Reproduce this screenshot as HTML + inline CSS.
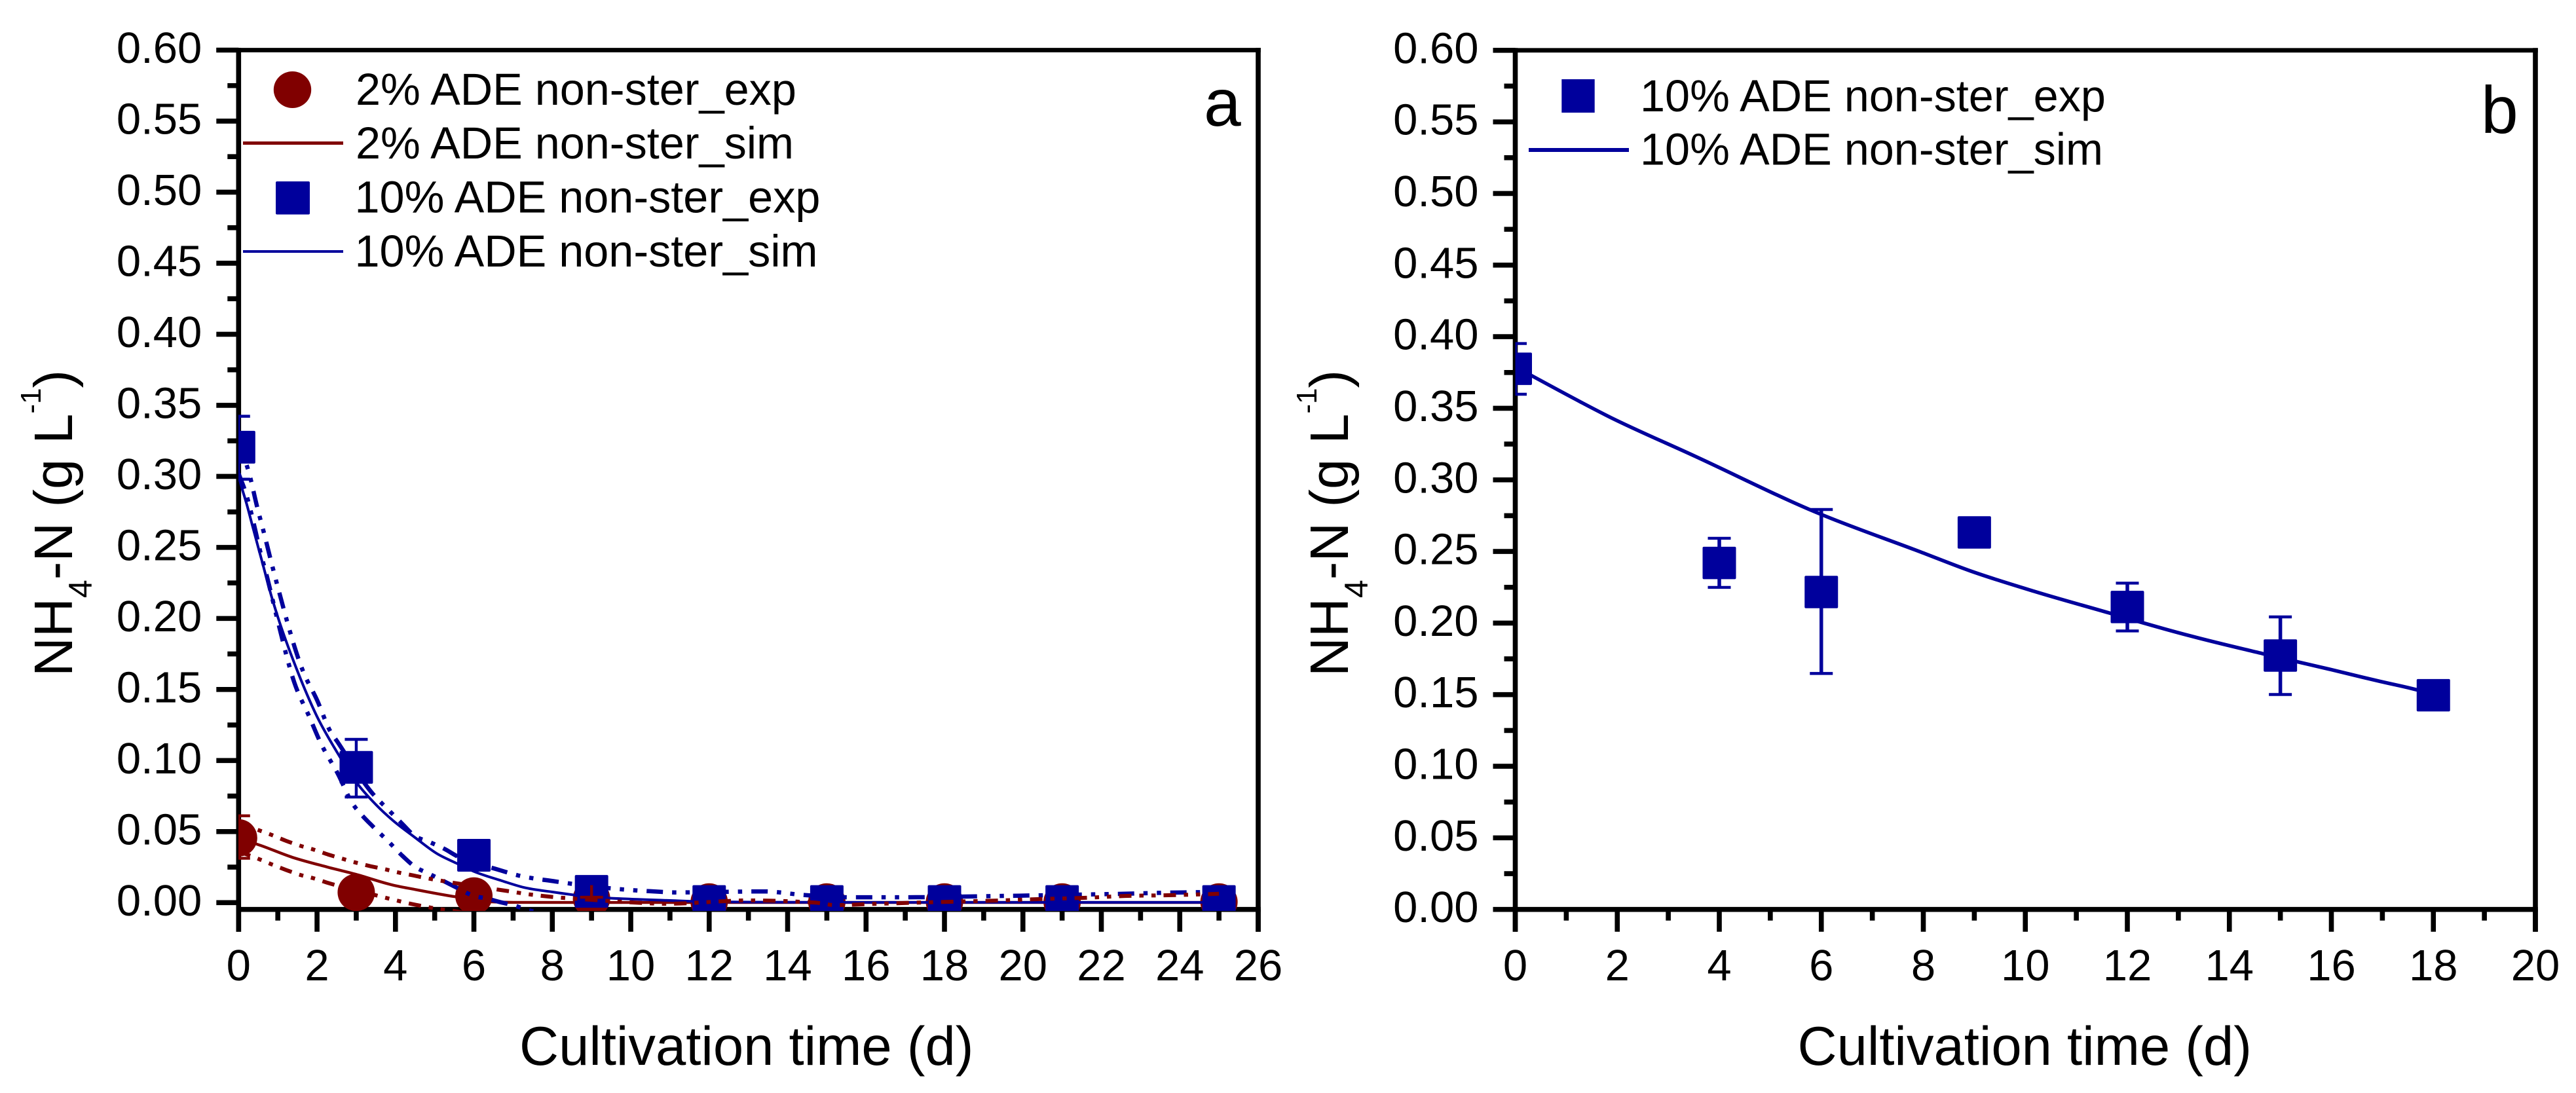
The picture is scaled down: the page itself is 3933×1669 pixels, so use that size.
<!DOCTYPE html>
<html lang="en">
<head>
<meta charset="utf-8">
<title>NH4-N cultivation time charts</title>
<style>
html,body{margin:0;padding:0;background:#fff;}
svg{display:block;}
text{font-family:"Liberation Sans",Arial,sans-serif;fill:#000;}
</style>
</head>
<body>
<svg id="figure" xmlns="http://www.w3.org/2000/svg" width="3933" height="1669" viewBox="0 0 3933 1669">
  <rect x="0" y="0" width="3933" height="1669" fill="#ffffff"/>
  <defs>
    <clipPath id="clip-a"><rect x="364" y="70" width="1570" height="1321"/></clipPath>
    <clipPath id="clip-b"><rect x="2313.5" y="70" width="1570" height="1321"/></clipPath>
  </defs>
  <g id="panel-a">
    <g id="axes-a"></g>
    <g id="marks-a" clip-path="url(#clip-a)"></g>
    <text x="793" y="1626" font-size="83.2">Cultivation time (d)</text>
    <text transform="translate(110,1033) rotate(-90)" font-size="83">NH<tspan font-size="50" dy="30">4</tspan><tspan dy="-30">-N (g L</tspan><tspan font-size="44" dy="-48">-1</tspan><tspan dy="48">)</tspan></text>
    <text x="1838" y="192" font-size="102">a</text>
    <g>
      <ellipse cx="446.5" cy="137" rx="28.7" ry="28" fill="#800000"/>
      <text x="543" y="160" font-size="68.4">2% ADE non-ster_exp</text>
      <rect x="371" y="216" width="153" height="5" fill="#800000"/>
      <text x="543" y="242" font-size="68.4">2% ADE non-ster_sim</text>
      <rect x="421" y="277" width="52" height="50.5" rx="2" fill="#00009c"/>
      <text x="541.5" y="324.5" font-size="68.4">10% ADE non-ster_exp</text>
      <rect x="371" y="382" width="153" height="4" fill="#00009c"/>
      <text x="541.5" y="407" font-size="68.4">10% ADE non-ster_sim</text>
    </g>
  </g>
  <g id="panel-b">
    <g id="axes-b"></g>
    <g id="marks-b" clip-path="url(#clip-b)"></g>
    <text x="2744.5" y="1626" font-size="83.2">Cultivation time (d)</text>
    <text transform="translate(2058,1033) rotate(-90)" font-size="83">NH<tspan font-size="50" dy="30">4</tspan><tspan dy="-30">-N (g L</tspan><tspan font-size="44" dy="-48">-1</tspan><tspan dy="48">)</tspan></text>
    <text x="3788" y="203" font-size="102">b</text>
    <g>
      <rect x="2384.3" y="121" width="50.4" height="51" fill="#00009c"/>
      <text x="2504" y="170" font-size="68.4">10% ADE non-ster_exp</text>
      <rect x="2334" y="226" width="153" height="6" fill="#00009c"/>
      <text x="2504" y="251.5" font-size="68.4">10% ADE non-ster_sim</text>
    </g>
  </g>
</svg>
<script>
/* ---------- shared tick labels ---------- */
var yTickLabels = ['0.00','0.05','0.10','0.15','0.20','0.25','0.30','0.35','0.40','0.45','0.50','0.55','0.60'];
var xTickLabelsA = ['0','2','4','6','8','10','12','14','16','18','20','22','24','26'];
var xTickLabelsB = ['0','2','4','6','8','10','12','14','16','18','20'];

/* ---------- panel a: experimental ---------- */
var expTimesA = [0,3,6,9,12,15,18,21,25];
var exp2Values = [0.0456,0.0072,0.0047,0.0029,0.0005,0.0005,0.0005,0.0005,0.0005];
var exp10Values = [0.3205,0.0952,0.0333,0.0079,0.0008,0.0008,0.0008,0.0008,0.0008];
var err10Times = [0,3];
var err10Top = [0.3423,0.1149];
var err10Bottom = [0.298,0.0743];
var err2Times = [0,9];
var err2Top = [0.0611,0.0123];
var err2Bottom = [0.0312,0.0038];
var err2TopCap = [true,false];

/* ---------- panel a: 10% simulation and bands ---------- */
var sim10Times = [0,0.06,0.2,0.37,0.6,0.85,1,1.48,2,2.49,3.05,3.5,3.94,4.49,5.05,5.55,5.97,6.72,7.27,8,9,10,11,12,15,18,21,25];
var sim10Values = [0.3,0.294,0.281,0.2634,0.24,0.2144,0.201,0.1644,0.131,0.1068,0.083,0.069,0.0577,0.046,0.0346,0.0278,0.0223,0.0153,0.0107,0.0075,0.004,0.0025,0.0015,0.0006,0.0002,0.0002,0.0002,0.0002];
var upper10Times = [0,0.3,0.46,0.66,0.83,1,1.64,2.01,2.33,2.52,3.43,3.82,4.19,4.46,4.88,5.27,5.55,6.62,7.12,8.08,9.57,10.5,11.2,13.4,14.4,15.6,17,18.8,19.9,22,24.1,25];
var upper10Values = [0.325,0.2988,0.28,0.2588,0.24,0.222,0.163,0.142,0.121,0.1132,0.0763,0.0653,0.055,0.0476,0.0425,0.0375,0.033,0.0232,0.0192,0.0149,0.0098,0.008,0.0072,0.0079,0.0054,0.0038,0.0038,0.0044,0.0049,0.0059,0.0072,0.0075];
var lower10Times = [0,0.2,0.4,0.55,0.73,0.83,1,1.42,1.8,2.1,2.54,2.9,3.15,3.42,3.82,4.2,4.48,4.88,5.27,5.55,6,6.34,6.62,7.02,7.4,8,25];
var lower10Values = [0.302,0.2868,0.2653,0.2473,0.2287,0.2174,0.198,0.155,0.131,0.112,0.0902,0.0699,0.0614,0.0537,0.043,0.0323,0.0256,0.02,0.0146,0.0107,0.0047,0.0029,0.0007,-0.002,-0.0054,-0.008,-0.008];

/* ---------- panel a: 2% simulation and bands ---------- */
var sim2Times = [0,0.43,1.37,2.27,2.98,3.94,4.49,5.49,6,6.44,7,9,12,25];
var sim2Values = [0.045,0.0415,0.0319,0.025,0.02,0.0123,0.0093,0.0043,0.0022,0.0006,0.0002,0.0001,0.0001,0.0001];
var upper2Times = [0,0.53,0.81,1.21,1.61,1.89,2.29,2.68,2.96,3.37,3.76,4.03,4.44,4.83,5.1,5.52,6.6,6.97,7.24,8,9,10,10.9,13,14.7,15.2,16.3,17.3,18.4,19.4,20.5,21.6,22.6,23.7,25];
var upper2Values = [0.056,0.0508,0.048,0.0435,0.0397,0.0375,0.0338,0.0306,0.0284,0.0256,0.0233,0.0215,0.0192,0.017,0.0157,0.0138,0.0092,0.0077,0.0065,0.004,0.002,0.0002,-0.0008,0.0015,0,-0.0017,-0.0008,0,0.0008,0.0015,0.0026,0.0034,0.0047,0.0052,0.0062];
var lower2Times = [0,0.54,0.82,1.21,1.61,1.89,2.29,3.48,3.75,4.03,4.44,4.82,5.1,5.46,6,25];
var lower2Values = [0.036,0.0304,0.0272,0.023,0.0192,0.0173,0.0138,0.0053,0.0034,0.0015,-0.0011,-0.0031,-0.0045,-0.0057,-0.008,-0.008];

/* ---------- panel b ---------- */
var expTimesB = [0,4,6,9,12,15,18];
var expValuesB = [0.3776,0.242,0.2217,0.2633,0.2112,0.1773,0.1496];
var errTimesB = [0,4,6,12,15];
var errTopB = [0.3952,0.2592,0.2793,0.2279,0.2043];
var errBottomB = [0.3598,0.2249,0.1648,0.1945,0.1501];
var simTimesB = [0,0.33,1.88,3.52,5.9,7.95,8.93,10.16,11.64,12.29,13.27,14.67,15.98,16.96,17.7,18];
var simValuesB = [0.379,0.3726,0.3434,0.3166,0.2773,0.2496,0.2363,0.2223,0.2071,0.2003,0.1907,0.1785,0.1676,0.1592,0.1531,0.15];

var SVGNS = 'http://www.w3.org/2000/svg';
var RED = '#800000';
var BLUE = '#00009c';

function svgEl(parent, tag, attrs) {
  var el = document.createElementNS(SVGNS, tag);
  for (var k in attrs) { el.setAttribute(k, attrs[k]); }
  parent.appendChild(el);
  return el;
}

function linear(d0, d1, r0, r1) {
  return function (v) { return r0 + (v - d0) * (r1 - r0) / (d1 - d0); };
}

function drawAxes(group, xs, ys, opts) {
  var L = xs(0), R = xs(opts.xMax), T = ys(0.6), B = opts.bottom;
  var lw = 7.6;
  function bar(name, x1, y1, x2, y2, w) {
    var ln = svgEl(group, 'line', {x1:x1, y1:y1, x2:x2, y2:y2, stroke:'#000', 'stroke-width':w});
    
    
  }
  bar('left-spine', L, T - 3.5, L, B + 34, lw);
  bar('right-spine', R, T - 3.5, R, B + 34, lw);
  bar('top-spine', L - 34, T, R + 3.8, T, 6.8);
  bar('bottom-spine', L - 3.8, B, R + 3.8, B, lw);
  yTickLabels.forEach(function (lab, i) {
    var v = parseFloat(lab), y = ys(v);
    bar('y-tick', L - 34, y, L, y, 7.6);
    if (i < yTickLabels.length - 1) {
      var ym = ys(v + (parseFloat(yTickLabels[i + 1]) - v) / 2);
      bar('y-minor-tick', L - 17, ym, L, ym, 7.6);
    }
    var t = svgEl(group, 'text', {x: L - 56, y: y + 19.5, 'font-size': 67, 'text-anchor': 'end'});
    
    
    t.textContent = lab;
  });
  opts.xLabels.forEach(function (lab, i) {
    var v = parseFloat(lab), x = xs(v);
    bar('x-tick', x, B, x, B + 34, 7.6);
    if (i < opts.xLabels.length - 1) {
      var xm = xs(v + (parseFloat(opts.xLabels[i + 1]) - v) / 2);
      bar('x-minor-tick', xm, B, xm, B + 17, 7.6);
    }
    var t = svgEl(group, 'text', {x: x, y: 1497, 'font-size': 67, 'text-anchor': 'middle'});
    
    
    t.textContent = lab;
  });
}

/* monotone cubic path through the read-off points */
function smoothPath(px, py) {
  var n = px.length, s = [], m = [], i;
  for (i = 0; i < n - 1; i++) { s.push((py[i + 1] - py[i]) / (px[i + 1] - px[i])); }
  m[0] = s[0];
  m[n - 1] = s[n - 2];
  for (i = 1; i < n - 1; i++) {
    if (s[i - 1] * s[i] <= 0) { m[i] = 0; continue; }
    var h0 = px[i] - px[i - 1], h1 = px[i + 1] - px[i];
    var w = (s[i - 1] * h1 + s[i] * h0) / (h0 + h1);
    var lim = 2 * Math.min(Math.abs(s[i - 1]), Math.abs(s[i]));
    m[i] = Math.sign(w) * Math.min(Math.abs(w), lim);
  }
  var d = 'M' + px[0].toFixed(1) + ' ' + py[0].toFixed(1);
  for (i = 0; i < n - 1; i++) {
    var h = (px[i + 1] - px[i]) / 3;
    d += 'C' + (px[i] + h).toFixed(1) + ' ' + (py[i] + m[i] * h).toFixed(1) + ' ' +
         (px[i + 1] - h).toFixed(1) + ' ' + (py[i + 1] - m[i + 1] * h).toFixed(1) + ' ' +
         px[i + 1].toFixed(1) + ' ' + py[i + 1].toFixed(1);
  }
  return d;
}

function drawCurve(group, name, ts, vs, xs, ys, color, width, dash) {
  var attrs = {d: smoothPath(ts.map(xs), vs.map(ys)), fill: 'none', stroke: color, 'stroke-width': width, 'stroke-linejoin': 'round'};
  if (dash) { attrs['stroke-dasharray'] = dash; }
  var p = svgEl(group, 'path', attrs);
  
  
}

function drawSquares(group, name, ts, vs, xs, ys, w, h) {
  ts.forEach(function (t, i) {
    var r = svgEl(group, 'rect', {x: xs(t) - w / 2, y: ys(vs[i]) - h / 2, width: w, height: h, rx: 2, fill: BLUE});
    
    
  });
}

function drawCircles(group, name, ts, vs, xs, ys, r) {
  ts.forEach(function (t, i) {
    var c = svgEl(group, 'circle', {cx: xs(t), cy: ys(vs[i]), r: r, fill: RED});
    
    
  });
}

function drawErrors(group, name, ts, tops, bots, xs, ys, color, sw, topCaps) {
  ts.forEach(function (t, i) {
    var x = xs(t), y1 = ys(tops[i]), y2 = ys(bots[i]);
    var stem = svgEl(group, 'line', {x1: x, y1: y1, x2: x, y2: y2, stroke: color, 'stroke-width': sw});
    
    
    if (!topCaps || topCaps[i]) {
      var c1 = svgEl(group, 'line', {x1: x - 17.5, y1: y1, x2: x + 17.5, y2: y1, stroke: color, 'stroke-width': 4.4});
      
      
    }
    var c2 = svgEl(group, 'line', {x1: x - 17.5, y1: y2, x2: x + 17.5, y2: y2, stroke: color, 'stroke-width': 4.4});
    
    
  });
}

/* panel a */
var xA = linear(0, 26, 364.3, 1921);
var yA = linear(0, 0.6, 1378.3, 76.5);
drawAxes(document.getElementById('axes-a'), xA, yA, {xMax: 26, bottom: 1388.7, xLabels: xTickLabelsA});
var mA = document.getElementById('marks-a');
var DASH_RED = '19 12 6.5 12 6.5 12';
var DASH_BLUE = '25 14 6.5 14 6.5 14';
drawCircles(mA, 'marker-2pct-exp', expTimesA, exp2Values, xA, yA, 28.5);
drawCurve(mA, 'line-2pct-sim', sim2Times, sim2Values, xA, yA, RED, 4.4);
drawCurve(mA, 'line-10pct-sim', sim10Times, sim10Values, xA, yA, BLUE, 4);
drawCurve(mA, 'band-10pct-upper', upper10Times, upper10Values, xA, yA, BLUE, 6.5, DASH_BLUE);
drawCurve(mA, 'band-10pct-lower', lower10Times, lower10Values, xA, yA, BLUE, 6.5, DASH_BLUE);
drawSquares(mA, 'marker-10pct-exp', expTimesA, exp10Values, xA, yA, 51, 50);
drawCurve(mA, 'band-2pct-upper', upper2Times, upper2Values, xA, yA, RED, 6, DASH_RED);
drawCurve(mA, 'band-2pct-lower', lower2Times, lower2Values, xA, yA, RED, 6, DASH_RED);
drawErrors(mA, 'errorbar-10pct', err10Times, err10Top, err10Bottom, xA, yA, BLUE, 4.4);
drawErrors(mA, 'errorbar-2pct', err2Times, err2Top, err2Bottom, xA, yA, RED, 4.4, err2TopCap);

/* panel b */
var xB = linear(0, 20, 2313.5, 3871);
var yB = linear(0, 0.6, 1388.7, 76.8);
drawAxes(document.getElementById('axes-b'), xB, yB, {xMax: 20, bottom: 1388.7, xLabels: xTickLabelsB});
var mB = document.getElementById('marks-b');
drawCurve(mB, 'line-b-sim', simTimesB, simValuesB, xB, yB, BLUE, 5.5);
drawErrors(mB, 'errorbar-b', errTimesB, errTopB, errBottomB, xB, yB, BLUE, 5.5);
drawSquares(mB, 'marker-b-exp', expTimesB, expValuesB, xB, yB, 51, 49.5);
</script>
</body>
</html>
